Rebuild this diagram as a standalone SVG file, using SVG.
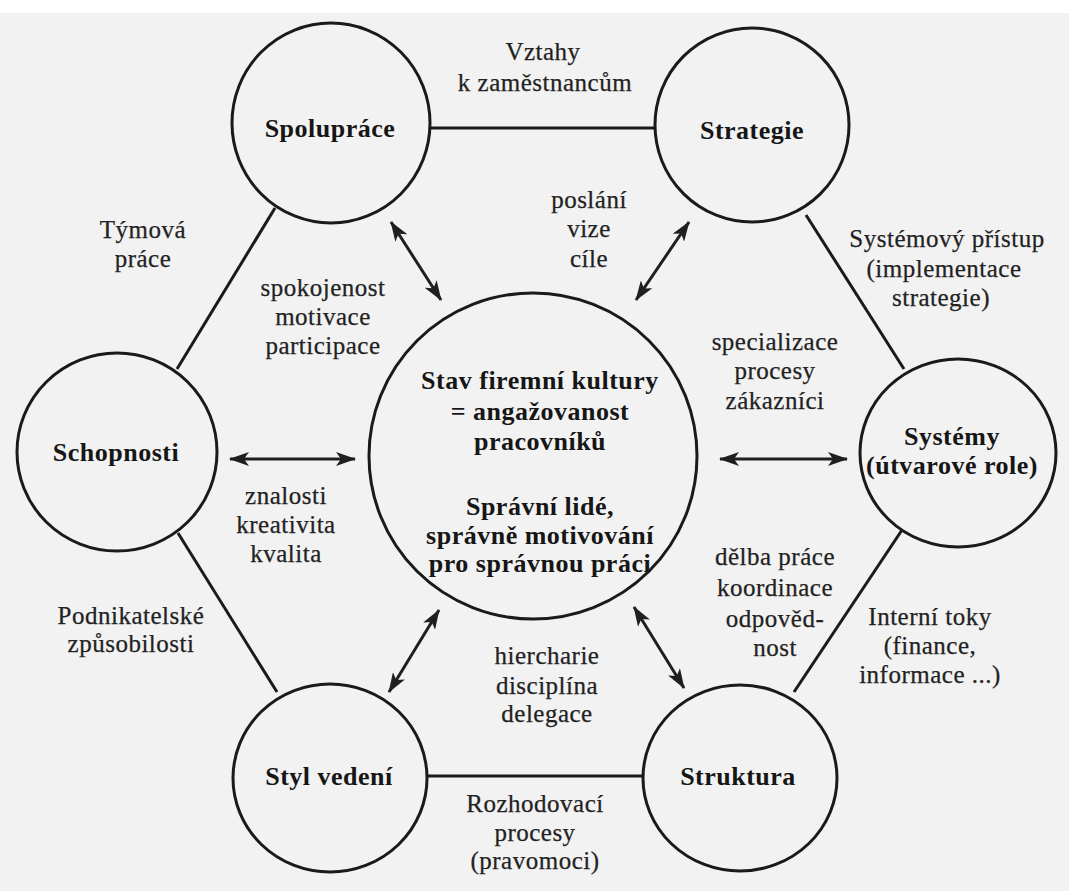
<svg xmlns="http://www.w3.org/2000/svg" width="1069" height="891" viewBox="0 0 1069 891">
  <style>
    .node { fill: none; stroke: #1a1a1a; stroke-width: 3; }
    .conn { stroke: #1a1a1a; stroke-width: 3; fill: none; }
    .arr { stroke: #1f1f1f; stroke-width: 3; fill: none; marker-start: url(#ah); marker-end: url(#ah); }
    .lbl { font-family: "Liberation Serif", "Times New Roman", serif; font-size: 25px; fill: #222222; stroke: #222222; stroke-width: 0.25px; text-anchor: middle; letter-spacing: 0.5px; }
    .bold { font-family: "Liberation Serif", "Times New Roman", serif; font-size: 26px; font-weight: bold; fill: #161616; text-anchor: middle; letter-spacing: 0.5px; }
  </style>
  <defs>
    <marker id="ah" markerUnits="userSpaceOnUse" viewBox="0 0 20 14" markerWidth="20" markerHeight="14" refX="19" refY="7" orient="auto-start-reverse">
      <path d="M0,0 L20,7 L0,14 L5,7 z" fill="#1f1f1f"/>
    </marker>
  </defs>
  <rect x="0" y="0" width="1069" height="891" fill="#ffffff"/>
  <rect x="0" y="13" width="1069" height="878" fill="#f2f2f2"/>

  <g id="connectors">
    <line class="conn" x1="430" y1="128" x2="655" y2="128"/>
    <line class="conn" x1="428" y1="776" x2="643" y2="776"/>
    <line class="conn" x1="275" y1="208" x2="177" y2="369"/>
    <line class="conn" x1="178" y1="533" x2="277" y2="692"/>
    <line class="conn" x1="806" y1="215" x2="904" y2="369"/>
    <line class="conn" x1="902" y1="530" x2="794" y2="692"/>
    <line class="arr" x1="391" y1="222" x2="441" y2="300"/>
    <line class="arr" x1="689" y1="222" x2="636" y2="300"/>
    <line class="arr" x1="230" y1="459" x2="355" y2="459"/>
    <line class="arr" x1="720" y1="459" x2="847" y2="459"/>
    <line class="arr" x1="439" y1="610" x2="389" y2="692"/>
    <line class="arr" x1="634" y1="607" x2="684" y2="688"/>
  </g>

  <g id="edge-labels">
    <text class="lbl" x="543" y="60">Vztahy</text>
    <text class="lbl" x="545" y="91">k zaměstnancům</text>
    <text class="lbl" x="589" y="208">poslání</text>
    <text class="lbl" x="589" y="237">vize</text>
    <text class="lbl" x="589" y="267">cíle</text>
    <text class="lbl" x="143" y="238">Týmová</text>
    <text class="lbl" x="143" y="267">práce</text>
    <text class="lbl" x="323" y="296">spokojenost</text>
    <text class="lbl" x="323" y="325">motivace</text>
    <text class="lbl" x="323" y="354">participace</text>
    <text class="lbl" x="947" y="247">Systémový přístup</text>
    <text class="lbl" x="944" y="277">(implementace</text>
    <text class="lbl" x="941" y="306">strategie)</text>
    <text class="lbl" x="775" y="350">specializace</text>
    <text class="lbl" x="775" y="379">procesy</text>
    <text class="lbl" x="775" y="409">zákazníci</text>
    <text class="lbl" x="286" y="504">znalosti</text>
    <text class="lbl" x="286" y="533">kreativita</text>
    <text class="lbl" x="286" y="562">kvalita</text>
    <text class="lbl" x="775" y="565">dělba práce</text>
    <text class="lbl" x="775" y="596">koordinace</text>
    <text class="lbl" x="775" y="627">odpověd-</text>
    <text class="lbl" x="775" y="656">nost</text>
    <text class="lbl" x="930" y="625">Interní toky</text>
    <text class="lbl" x="930" y="654">(finance,</text>
    <text class="lbl" x="930" y="683">informace ...)</text>
    <text class="lbl" x="131" y="624">Podnikatelské</text>
    <text class="lbl" x="131" y="652">způsobilosti</text>
    <text class="lbl" x="547" y="664">hiercharie</text>
    <text class="lbl" x="547" y="694">disciplína</text>
    <text class="lbl" x="547" y="722">delegace</text>
    <text class="lbl" x="535" y="812">Rozhodovací</text>
    <text class="lbl" x="535" y="841">procesy</text>
    <text class="lbl" x="535" y="869">(pravomoci)</text>
  </g>

  <g id="node-spoluprace">
    <ellipse class="node" cx="331" cy="123" rx="99" ry="100"/>
    <text class="bold" x="330" y="137">Spolupráce</text>
  </g>
  <g id="node-strategie">
    <ellipse class="node" cx="752" cy="125" rx="97" ry="97"/>
    <text class="bold" x="752" y="139">Strategie</text>
  </g>
  <g id="node-center">
    <ellipse class="node" cx="533" cy="456" rx="164" ry="163"/>
    <text class="bold" x="540" y="389">Stav firemní kultury</text>
    <text class="bold" x="540" y="420">= angažovanost</text>
    <text class="bold" x="540" y="450">pracovníků</text>
    <text class="bold" x="540" y="515">Správní lidé,</text>
    <text class="bold" x="540" y="544">správně motivování</text>
    <text class="bold" x="540" y="572">pro správnou práci</text>
  </g>
  <g id="node-schopnosti">
    <ellipse class="node" cx="117" cy="452" rx="100" ry="99"/>
    <text class="bold" x="116" y="461">Schopnosti</text>
  </g>
  <g id="node-systemy">
    <ellipse class="node" cx="958" cy="453" rx="98" ry="94"/>
    <text class="bold" x="952" y="445">Systémy</text>
    <text class="bold" x="952" y="474">(útvarové role)</text>
  </g>
  <g id="node-styl">
    <ellipse class="node" cx="330" cy="778" rx="97" ry="94"/>
    <text class="bold" x="329" y="785">Styl vedení</text>
  </g>
  <g id="node-struktura">
    <ellipse class="node" cx="740" cy="778" rx="97" ry="93"/>
    <text class="bold" x="738" y="785">Struktura</text>
  </g>
</svg>
